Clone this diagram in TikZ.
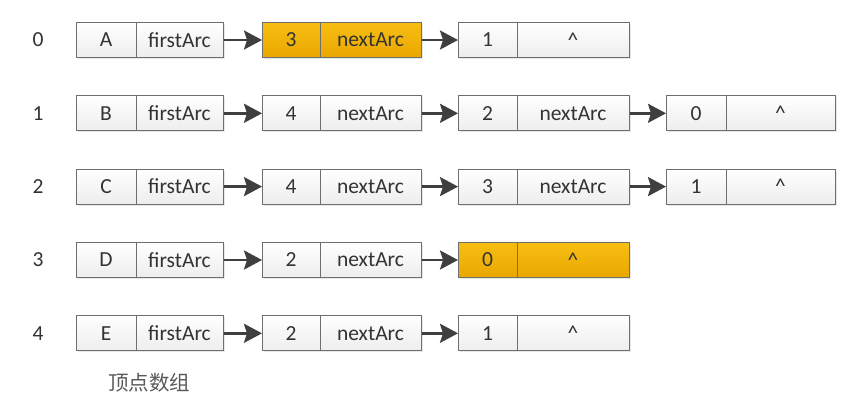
\documentclass[tikz,border=0pt]{standalone}
\usepackage{fontspec}
\setmainfont{Carlito}
\newfontfamily\cjk{Noto Sans CJK SC}
\usetikzlibrary{arrows.meta,shadows}
\definecolor{bordergray}{HTML}{6E6E6E}
\definecolor{txtgray}{HTML}{333333}
\definecolor{arrowgray}{HTML}{3F3F3F}
\definecolor{orangetop}{HTML}{F7BE12}
\definecolor{orangebot}{HTML}{E9A700}
\begin{document}
\begin{tikzpicture}[x=1pt,y=-1pt,
  cell/.style={draw=bordergray, line width=1pt, inner sep=0pt, minimum height=35pt,
    top color=white, bottom color=gray!14, text=txtgray,
    font=\fontsize{21.5}{24}\selectfont,
    drop shadow={opacity=0.18, shadow xshift=1.5pt, shadow yshift=-1.5pt}},
  hot/.style={top color=orangetop, bottom color=orangebot, text=black!80},
  wv/.style={minimum width=60pt},
  wf/.style={minimum width=87pt},
  wn1/.style={minimum width=58pt},
  wx1/.style={minimum width=101pt},
  wn2/.style={minimum width=59pt},
  wx2/.style={minimum width=112pt},
  wn3/.style={minimum width=60pt},
  wx3/.style={minimum width=109pt},
  link/.style={draw=arrowgray, line width=2.7pt, -{Stealth[length=18pt,width=19pt,inset=3pt]}, shorten >=-0.5pt},
  idx/.style={text=txtgray, font=\fontsize{21.5}{24}\selectfont}
]
\useasboundingbox (0,0) rectangle (866,405);

% row 0
\node[idx] (i0) at (38,40) {0};
\node[cell,wv] (v0) at (106,40) {A};
\node[cell,wf] (f0) at (179.5,40) {firstArc};
\node[cell,wn1,hot] (a0) at (291,40) {3};
\node[cell,wx1,hot] (b0) at (370.5,40) {nextArc};
\node[cell,wn2] (c0) at (487.5,40) {1};
\node[cell,wx2] (d0) at (573,40) {\^{}};
\draw[link] (f0.east) -- (a0.west);
\draw[link] (b0.east) -- (c0.west);

% row 1
\node[idx] (i1) at (38,113.3) {1};
\node[cell,wv] (v1) at (106,113.3) {B};
\node[cell,wf] (f1) at (179.5,113.3) {firstArc};
\node[cell,wn1] (a1) at (291,113.3) {4};
\node[cell,wx1] (b1) at (370.5,113.3) {nextArc};
\node[cell,wn2] (c1) at (487.5,113.3) {2};
\node[cell,wx2] (d1) at (573,113.3) {nextArc};
\node[cell,wn3] (e1) at (696,113.3) {0};
\node[cell,wx3] (g1) at (780.5,113.3) {\^{}};
\draw[link] (f1.east) -- (a1.west);
\draw[link] (b1.east) -- (c1.west);
\draw[link] (d1.east) -- (e1.west);

% row 2
\node[idx] (i2) at (38,186.6) {2};
\node[cell,wv] (v2) at (106,186.6) {C};
\node[cell,wf] (f2) at (179.5,186.6) {firstArc};
\node[cell,wn1] (a2) at (291,186.6) {4};
\node[cell,wx1] (b2) at (370.5,186.6) {nextArc};
\node[cell,wn2] (c2) at (487.5,186.6) {3};
\node[cell,wx2] (d2) at (573,186.6) {nextArc};
\node[cell,wn3] (e2) at (696,186.6) {1};
\node[cell,wx3] (g2) at (780.5,186.6) {\^{}};
\draw[link] (f2.east) -- (a2.west);
\draw[link] (b2.east) -- (c2.west);
\draw[link] (d2.east) -- (e2.west);

% row 3
\node[idx] (i3) at (38,260) {3};
\node[cell,wv] (v3) at (106,260) {D};
\node[cell,wf] (f3) at (179.5,260) {firstArc};
\node[cell,wn1] (a3) at (291,260) {2};
\node[cell,wx1] (b3) at (370.5,260) {nextArc};
\node[cell,wn2,hot] (c3) at (487.5,260) {0};
\node[cell,wx2,hot] (d3) at (573,260) {\^{}};
\draw[link] (f3.east) -- (a3.west);
\draw[link] (b3.east) -- (c3.west);

% row 4
\node[idx] (i4) at (38,333.3) {4};
\node[cell,wv] (v4) at (106,333.3) {E};
\node[cell,wf] (f4) at (179.5,333.3) {firstArc};
\node[cell,wn1] (a4) at (291,333.3) {2};
\node[cell,wx1] (b4) at (370.5,333.3) {nextArc};
\node[cell,wn2] (c4) at (487.5,333.3) {1};
\node[cell,wx2] (d4) at (573,333.3) {\^{}};
\draw[link] (f4.east) -- (a4.west);
\draw[link] (b4.east) -- (c4.west);

\node[text=black!65, font=\cjk\fontsize{20.5}{24}\selectfont] (cap) at (149,383) {顶点数组};
\end{tikzpicture}
\end{document}
